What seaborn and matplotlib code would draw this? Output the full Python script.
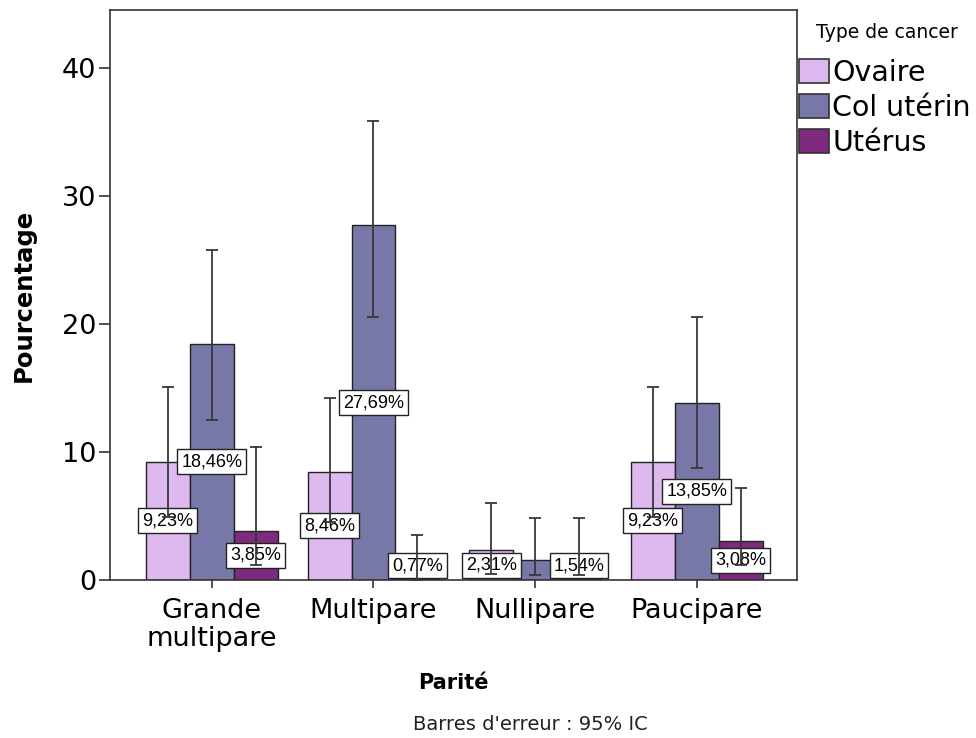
import matplotlib
matplotlib.use("Agg")
import matplotlib.pyplot as plt
import seaborn as sns
import pandas as pd
from matplotlib.patches import Patch

categories = ["Grande\nmultipare", "Multipare", "Nullipare", "Paucipare"]
cancer_types = ["Ovaire", "Col utérin", "Utérus"]

ovaire = [9.23, 8.46, 2.31, 9.23]
col_uterin = [18.46, 27.69, 1.54, 13.85]
uterus = [3.85, 0.77, 1.54, 3.08]

ovaire_lo = [4.9, 4.5, 0.5, 4.9]
ovaire_hi = [15.1, 14.2, 6.0, 15.1]
col_lo = [12.5, 20.5, 0.4, 8.75]
col_hi = [25.8, 35.8, 4.85, 20.5]
uterus_lo = [1.2, 0.0, 0.4, 1.2]
uterus_hi = [10.4, 3.5, 4.85, 7.2]

label_texts = {
    "Ovaire": ["9,23%", "8,46%", "2,31%", "9,23%"],
    "Col utérin": ["18,46%", "27,69%", None, "13,85%"],
    "Utérus": ["3,85%", "0,77%", "1,54%", "3,08%"],
}

colors = ["#DDB9EF", "#7878A8", "#7E2A7E"]

values = {"Ovaire": ovaire, "Col utérin": col_uterin, "Utérus": uterus}
lows = {"Ovaire": ovaire_lo, "Col utérin": col_lo, "Utérus": uterus_lo}
highs = {"Ovaire": ovaire_hi, "Col utérin": col_hi, "Utérus": uterus_hi}

rows = []
for t in cancer_types:
    for c, v in zip(categories, values[t]):
        rows.append({"Parité": c, "Type de cancer": t, "Pourcentage": v})
df = pd.DataFrame(rows)

sns.set_style("ticks")
plt.rcParams["font.family"] = ["DejaVu Sans"]
plt.rcParams["text.color"] = "black"
plt.rcParams["xtick.color"] = "#333333"
plt.rcParams["ytick.color"] = "#333333"
plt.rcParams["xtick.labelcolor"] = "black"
plt.rcParams["ytick.labelcolor"] = "black"
plt.rcParams["axes.labelcolor"] = "black"

fig = plt.figure(figsize=(9.76, 7.38), dpi=100)
ax = fig.add_axes([110 / 976, 1 - 580 / 738, (797 - 110) / 976, (580 - 10) / 738])

sns.barplot(data=df, x="Parité", y="Pourcentage", hue="Type de cancer",
            hue_order=cancer_types, order=categories, palette=colors,
            errorbar=None, width=0.815, edgecolor="#222222", linewidth=1.0,
            saturation=1, ax=ax, zorder=2)

for cont, t in zip(ax.containers, cancer_types):
    for i, bar in enumerate(cont):
        xc = bar.get_x() + bar.get_width() / 2
        v = values[t][i]
        lo, hi = lows[t][i], highs[t][i]
        ax.errorbar([xc], [v], yerr=[[v - lo], [hi - v]], fmt="none",
                    ecolor="#383838", elinewidth=1.3, capsize=4.3, capthick=1.3,
                    zorder=5)
        txt = label_texts[t][i]
        if txt is not None:
            ax.text(xc, max(v / 2, 1.1), txt, ha="center", va="center",
                    fontsize=13, family="Liberation Sans", color="black", zorder=4,
                    bbox=dict(boxstyle="square,pad=0.22", facecolor="white",
                              edgecolor="#222222", linewidth=1.0))

ax.set_xlim(-0.63, 3.62)
ax.set_ylim(0, 44.5)
ax.set_yticks([0, 10, 20, 30, 40])
ax.tick_params(axis="y", labelsize=19.5, length=8, width=1.2, pad=2)
ax.tick_params(axis="x", labelsize=19.5, length=6, width=1.2, pad=7)
for lbl in ax.get_xticklabels():
    lbl.set_linespacing(1.12)
for s in ax.spines.values():
    s.set_visible(True)
    s.set_color("#333333")
    s.set_linewidth(1.2)

ax.set_ylabel("Pourcentage", fontsize=17.5, fontweight="bold")
ax.yaxis.set_label_coords(-0.108, 0.5)
ax.set_xlabel("Parité", fontsize=15, fontweight="bold")
ax.xaxis.set_label_coords(0.5, -0.163)

fig.text(530 / 976, 1 - 724 / 738, "Barres d'erreur : 95% IC", ha="center",
         va="center", fontsize=14, color="#222222")

ax.get_legend().remove()
fig.text(887 / 976, 1 - 33 / 738, "Type de cancer", ha="center", va="center",
         fontsize=13.5, color="black")
handles = [Patch(facecolor=c, edgecolor="#333333", linewidth=1.2) for c in colors]
leg = fig.legend(handles, cancer_types,
                 loc="upper left", bbox_to_anchor=(799 / 976, 1 - 59 / 738),
                 frameon=False, fontsize=20.5,
                 handlelength=1.05, handleheight=0.92, handletextpad=0.12,
                 labelspacing=0.24, borderpad=0, borderaxespad=0)

fig.savefig("out.png", dpi=100, facecolor="white")
